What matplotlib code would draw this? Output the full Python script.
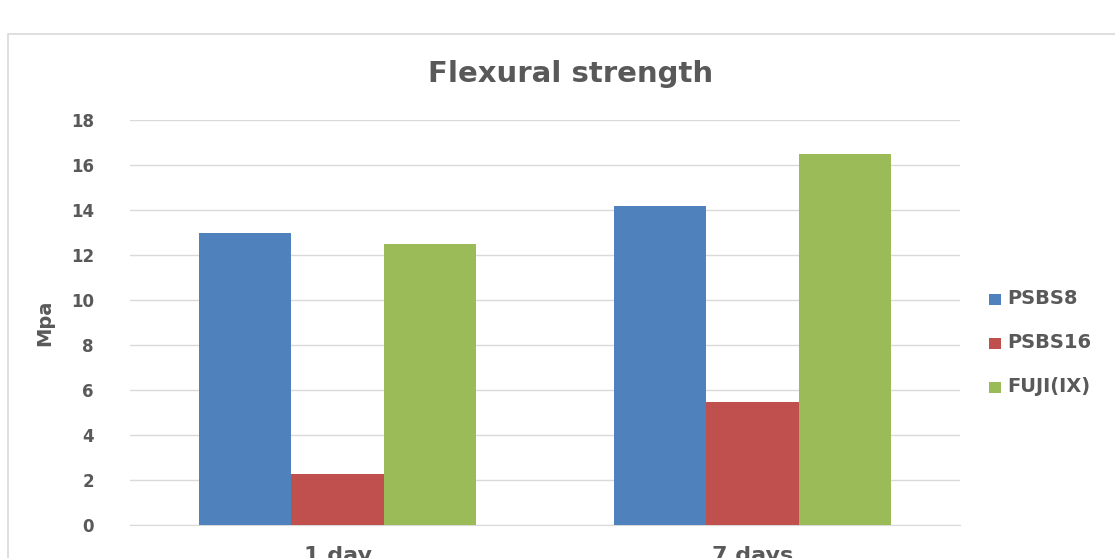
import matplotlib.pyplot as plt
from matplotlib.patches import Rectangle, Patch
import numpy as np

# flexural strength (MPa) by curing time
categories = ['1 day', '7 days']
series_names = ['PSBS8', 'PSBS16', 'FUJI(IX)']
psbs8 = [13.0, 14.2]
psbs16 = [2.25, 5.45]
fuji_ix = [12.5, 16.5]
y_ticks = [0, 2, 4, 6, 8, 10, 12, 14, 16, 18]

colors = ['#4F81BD', '#C0504D', '#9BBB59']
text_gray = '#595959'

plt.rcParams['font.family'] = ['DejaVu Sans']

fig = plt.figure(figsize=(11.15, 5.58), dpi=100)
fig.patch.set_facecolor('white')

# chart area frame
fig.patches.append(Rectangle((8 / 1115, -0.2), 1.2, 1.2 - 34 / 558,
                             transform=fig.transFigure, fill=False,
                             edgecolor='#d9d9d9', linewidth=1.2))

ax = fig.add_axes([130 / 1115, 1 - 525 / 558, 830 / 1115, 405 / 558])

x = np.arange(len(categories))
width = 0.222
for i, (name, vals) in enumerate(zip(series_names, [psbs8, psbs16, fuji_ix])):
    ax.bar(x + (i - 1) * width, vals, width, color=colors[i], label=name, zorder=3)

ax.set_xlim(-0.5, 1.5)
ax.set_ylim(0, 18)
ax.set_yticks(y_ticks)
ax.set_xticks(x)
ax.set_xticklabels(categories)
ax.grid(axis='y', color='#d9d9d9', linewidth=1, zorder=0)
for side in ['top', 'right', 'left']:
    ax.spines[side].set_visible(False)
ax.spines['bottom'].set_color('#d9d9d9')
ax.tick_params(axis='both', length=0, colors=text_gray)
ax.tick_params(axis='y', pad=26, labelsize=12)
ax.tick_params(axis='x', pad=15, labelsize=16)
for lbl in ax.get_yticklabels() + ax.get_xticklabels():
    lbl.set_fontweight('bold')

ax.set_ylabel('Mpa', fontsize=14, fontweight='bold', color=text_gray, labelpad=12)

fig.text(571 / 1115, 1 - 74 / 558, 'Flexural strength', ha='center', va='center',
         fontsize=21, fontweight='bold', color=text_gray)

handles = [Patch(facecolor=c, edgecolor='none') for c in colors]
leg = fig.legend(handles, series_names, loc='upper left',
                 bbox_to_anchor=(989 / 1115, 1 - 289 / 558), frameon=False,
                 handlelength=0.85, handleheight=0.85, handletextpad=0.45,
                 labelspacing=1.8, borderaxespad=0, borderpad=0)
for t in leg.get_texts():
    t.set_fontsize(14)
    t.set_fontweight('bold')
    t.set_color(text_gray)

fig.savefig('out.png', dpi=100)
